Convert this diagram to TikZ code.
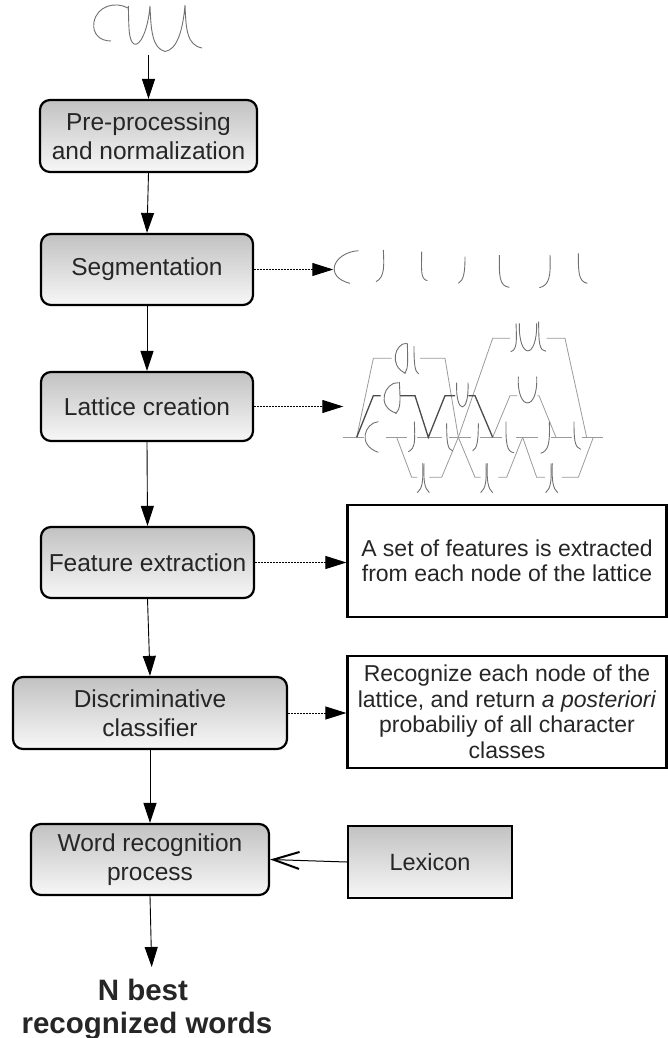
\documentclass[tikz,border=0pt]{standalone}
\usepackage{fontspec}
\setmainfont{Liberation Sans}
\usetikzlibrary{arrows.meta}
\definecolor{ink}{HTML}{262626}
\definecolor{shadetop}{HTML}{C2C2C2}
\definecolor{shadebot}{HTML}{F7F7F7}
\definecolor{pen}{HTML}{707070}
\definecolor{latgray}{HTML}{9A9A9A}
\definecolor{latdark}{HTML}{4A4A4A}

\begin{document}
\begin{tikzpicture}[x=1pt,y=-1pt,
  stage/.style={draw=black, line width=2.2pt, rounded corners=10pt,
    top color=shadetop, bottom color=shadebot, text=ink, align=center,
    inner sep=0pt, font=\fontsize{24.5}{28.5}\selectfont},
  lexbox/.style={draw=black, line width=2.2pt,
    top color=shadetop, bottom color=shadebot, text=ink, align=center,
    inner sep=0pt, font=\fontsize{23.5}{27}\selectfont},
  note/.style={draw=black, line width=2.2pt, fill=white, text=ink,
    align=center, inner sep=0pt, font=\fontsize{23}{25.5}\selectfont},
  result/.style={text=ink, align=center, inner sep=0pt,
    font=\fontsize{29.5}{33.3}\selectfont\bfseries},
  flow/.style={draw=black, line width=0.9pt, -{Triangle[length=20pt,width=13pt]}},
  hint/.style={draw=black, line width=1pt, dash pattern=on 1.6pt off 1.4pt,
    -{Triangle[length=21pt,width=13pt]}},
  feed/.style={draw=black, line width=1pt,
    -{Straight Barb[length=26pt,width=17pt,line width=2pt]}},
  glyph/.style={draw=pen, line width=0.9pt},
  latline/.style={draw=latgray, line width=0.8pt},
  bestline/.style={draw=latdark, line width=1.3pt}
]
\useasboundingbox (0,0) rectangle (668,1038);

% handwritten input word
\draw[glyph] (128,8) .. controls (115,1) and (97,6) .. (94,22)
  .. controls (92,34) and (100,41) .. (111,41);
\draw[glyph] (128.3,6) .. controls (129,25) and (128,40) .. (134,44)
  .. controls (140,47) and (148,30) .. (150,6)
  .. controls (151,30) and (152,48) .. (165,51.5)
  .. controls (177,50) and (183,30) .. (185,5)
  .. controls (186,30) and (187,45) .. (202,48);
\coordinate (word) at (148.5,55);

% processing chain
\node[stage, minimum width=217pt, minimum height=72pt] (pre) at (148.5,136)
  {Pre-processing\\and normalization};
\node[stage, minimum width=212pt, minimum height=71pt] (seg) at (147,269.5)
  {Segmentation};
\node[stage, minimum width=212pt, minimum height=69pt] (lat) at (147,406.5)
  {Lattice creation};
\node[stage, minimum width=213pt, minimum height=71pt] (feat) at (147.5,562.5)
  {Feature extraction};
\node[stage, minimum width=274pt, minimum height=72pt] (disc) at (150,713)
  {Discriminative\\classifier};
\node[stage, minimum width=238pt, minimum height=71pt] (wrec) at (150,859.5)
  {Word recognition\\process};
\node[lexbox, minimum width=164pt, minimum height=72pt] (lex) at (430,862)
  {Lexicon};
\node[note, minimum width=319pt, minimum height=112pt] (fnote) at (507,561)
  {A set of features is extracted\\from each node of the lattice};
\node[note, minimum width=319pt, minimum height=112pt] (cnote) at (507,712)
  {Recognize each node of the\\lattice, and return \textit{a posteriori}\\probabiliy of all character\\classes};
\node[result, anchor=north] (best) at (147,979)
  {\hbox{N best\hskip0.278em}\\recognized words};

% main arrows
\draw[flow] (word) -- (pre.north);
\draw[flow] (pre.south) -- (seg.north);
\draw[flow] (seg.south) -- (lat.north);
\draw[flow] (lat.south) -- (feat.north);
\draw[flow] (feat.south) -- (disc.north);
\draw[flow] (disc.south) -- (wrec.north);
\coordinate (bestin) at (151.7,967);
\draw[flow] (wrec.south) -- (bestin);
\draw[feed] (lex.west) -- (wrec.east);

% side outputs
\coordinate (segout) at (333.3,269.5);
\coordinate (latout) at (343.3,406.5);
\draw[hint] (seg.east) -- (segout);
\draw[hint] (lat.east) -- (latout);
\draw[hint] (feat.east) -- (feat.east -| fnote.west);
\draw[hint] (disc.east) -- (disc.east -| cnote.west);

% segments and lattice
\begin{scope}[xshift=300pt, yshift=-240pt, x=0.33333pt, y=-0.33333pt]
  % segmented strokes
  \draw[glyph] (175,32) .. controls (100,38) and (70,110) .. (150,130);
  \draw[glyph] (250,30) .. controls (252,75) and (255,112) .. (228,125);
  \draw[glyph] (365,35) .. controls (365,85) and (360,118) .. (382,122);
  \draw[glyph] (495,50) .. controls (495,95) and (492,120) .. (475,130);
  \draw[glyph] (598,45) .. controls (598,105) and (596,138) .. (628,142);
  \draw[glyph] (750,45) .. controls (752,105) and (750,136) .. (718,143);
  \draw[glyph] (835,40) .. controls (835,95) and (835,125) .. (862,130);

  % lattice base line
  \foreach \a/\b in {130/192, 258/322, 352/425, 448/512, 540/605, 648/715, 752/815, 845/910}
    \draw[latline] (\a,592) -- (\b,592);
  % upper and lower branches
  \draw[latline] (170,592) -- (220,355) -- (275,355);
  \draw[latline] (360,355) -- (435,355) -- (475,592);
  \draw[latline] (475,592) -- (578,295) -- (630,295);
  \draw[latline] (740,295) -- (795,295) -- (860,592);
  \draw[latline] (578,592) -- (630,467) -- (652,467);
  \draw[latline] (712,467) -- (717,467) -- (768,592);
  \draw[latline] (290,592) -- (335,712) -- (352,712);
  \draw[latline] (388,712) -- (425,712) -- (475,592);
  \draw[latline] (475,592) -- (525,712) -- (542,712);
  \draw[latline] (595,712) -- (620,712) -- (668,592);
  \draw[latline] (668,592) -- (710,712) -- (735,712);
  \draw[latline] (785,712) -- (835,712) -- (880,592);
  % best path
  \draw[bestline] (170,592) -- (220,467) -- (242,467);
  \draw[bestline] (300,467) -- (345,467) -- (385,592) -- (435,467) -- (465,467);
  \draw[bestline] (505,467) -- (525,467) -- (578,592);

  % glyphs on the top branch
  \draw[glyph] (648,250) .. controls (650,300) and (652,330) .. (632,335);
  \draw[glyph] (658,250) .. controls (655,360) and (712,360) .. (710,250);
  \draw[glyph] (716,245) .. controls (716,310) and (718,332) .. (738,334);
  % glyphs on the second branch
  \draw[glyph] (320,310) .. controls (285,308) and (265,380) .. (318,400);
  \draw[glyph] (322,310) .. controls (323,360) and (326,392) .. (312,400);
  \draw[glyph] (342,318) .. controls (342,370) and (344,395) .. (356,402);
  % glyphs on the third branch
  \draw[glyph] (295,428) .. controls (255,425) and (225,500) .. (290,520);
  \draw[glyph] (298,426) .. controls (300,470) and (305,512) .. (285,520);
  \draw[glyph] (470,428) .. controls (466,525) and (508,525) .. (504,428);
  \draw[glyph] (655,410) .. controls (650,515) and (715,515) .. (710,410);
  % glyphs on the base line
  \draw[glyph] (235,545) .. controls (195,548) and (170,615) .. (235,637);
  \draw[glyph] (343,545) .. controls (345,600) and (347,625) .. (325,635);
  \draw[glyph] (440,550) .. controls (440,605) and (442,628) .. (458,633);
  \draw[glyph] (535,550) .. controls (535,600) and (532,625) .. (518,633);
  \draw[glyph] (618,545) .. controls (617,610) and (620,636) .. (642,638);
  \draw[glyph] (748,545) .. controls (750,610) and (746,632) .. (722,640);
  \draw[glyph] (822,545) .. controls (822,600) and (824,622) .. (842,628);
  % glyphs on the lower branch
  \foreach \p in {370,560,755} {
    \draw[glyph] (\p-2,670) .. controls (\p,720) and (\p-2,745) .. (\p-18,758);
    \draw[glyph] (\p+2,670) .. controls (\p,720) and (\p+3,745) .. (\p+18,758);
  }
\end{scope}
\end{tikzpicture}
\end{document}
